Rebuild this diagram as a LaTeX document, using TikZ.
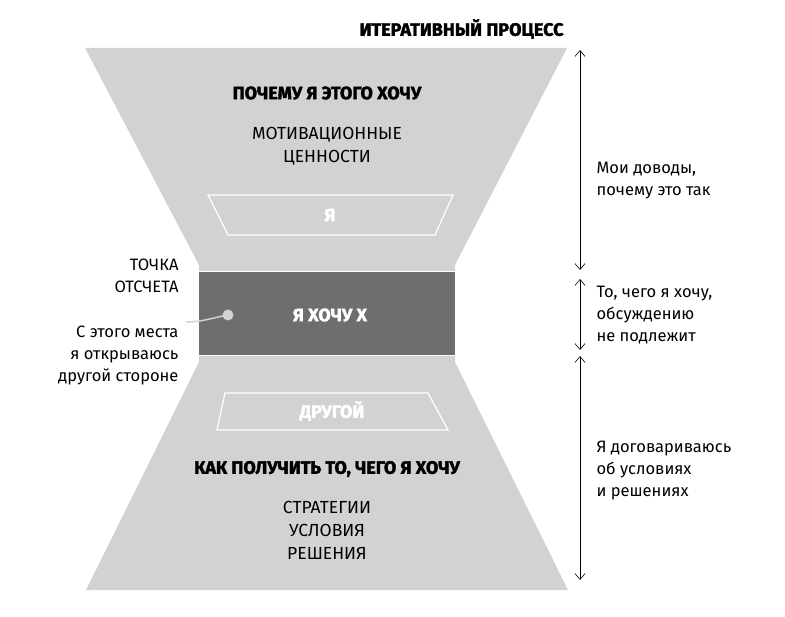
\documentclass[tikz,border=0pt]{standalone}
\usepackage{fontspec}
\setmainfont{Fira Sans}
\newfontfamily\headfont{Fira Sans}[FakeBold=2]
\usetikzlibrary{arrows.meta}
\definecolor{lightgr}{HTML}{D1D2D4}
\definecolor{darkgr}{HTML}{6D6E70}
\tikzset{
  head/.style={font=\headfont\bfseries\fontsize{18}{20}\selectfont},
  body/.style={font=\fontsize{17.5}{23}\selectfont, align=center},
  side/.style={font=\fontsize{16.5}{22}\selectfont, align=left, anchor=west},
  lefttxt/.style={font=\fontsize{16.5}{22}\selectfont, align=right, anchor=east},
  slot/.style={draw=white, line width=1.2pt, fill=lightgr},
  span/.style={{Straight Barb[length=6pt,width=10pt]}-{Straight Barb[length=6pt,width=10pt]}, line width=0.6pt}
}
\begin{document}
\begin{tikzpicture}[x=1pt,y=-1pt]
\useasboundingbox (0,0) rectangle (785,617);

% hourglass
\fill[lightgr] (85,48) -- (567,48) -- (455,265) -- (455,271) -- (199,271) -- (199,265) -- cycle;
\fill[darkgr] (199,272) rectangle (455,355);
\fill[lightgr] (199,356) -- (455,356) -- (455,362) -- (568,590) -- (86,590) -- (199,362) -- cycle;

% slots
\draw[slot] (208,195) -- (453,195) -- (435,235) -- (228,235) -- cycle;
\draw[slot] (225,393) -- (428,393) -- (448,430) -- (217,430) -- cycle;

% texts
\node[head, anchor=east] (title) at (567,29) {ИТЕРАТИВНЫЙ ПРОЦЕСС};
\node[head] (why) at (327,93) {ПОЧЕМУ Я ЭТОГО ХОЧУ};
\node[body] (motiv) at (327,146) {МОТИВАЦИОННЫЕ\\ЦЕННОСТИ};
\node[head, white] (me) at (330,215) {Я};
\node[head, white] (want) at (330,315) {Я ХОЧУ Х};
\node[head, white] (other) at (332,411) {ДРУГОЙ};
\node[head] (how) at (327,469) {КАК ПОЛУЧИТЬ ТО, ЧЕГО Я ХОЧУ};
\node[body] (strat) at (327,530) {СТРАТЕГИИ\\УСЛОВИЯ\\РЕШЕНИЯ};

% left notes
\node[lefttxt] (point) at (182,276) {ТОЧКА\\ОТСЧЕТА};
\node[lefttxt] (open) at (182,355) {С этого места\\я открываюсь\\другой стороне};
\coordinate (dot) at (228,315);
\draw[lightgr, line width=1.5pt] (186,322) to[out=0, in=190] (dot);
\fill[lightgr] (dot) circle (5.5);

% right spans
\coordinate (s1) at (580,50);
\coordinate (s2) at (580,270);
\coordinate (s3) at (580,279);
\coordinate (s4) at (580,350);
\coordinate (s5) at (580,356);
\coordinate (s6) at (580,580);
\draw[span] (s1) -- (s2);
\draw[span] (s3) -- (s4);
\draw[span] (s5) -- (s6);
\node[side] (reasons) at (593,181) {Мои доводы,\\почему это так};
\node[side] (nonneg) at (593,315) {То, чего я хочу,\\обсуждению\\не подлежит};
\node[side] (agree) at (593,471) {Я договариваюсь\\об условиях\\и решениях};
\end{tikzpicture}
\end{document}
